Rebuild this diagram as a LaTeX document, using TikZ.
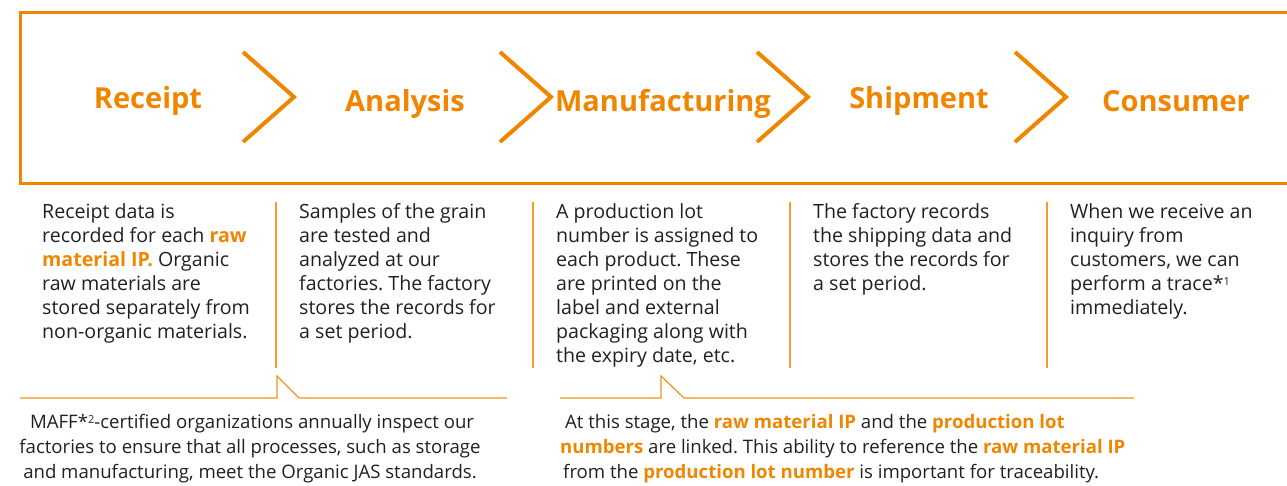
\documentclass[tikz,border=0pt]{standalone}
\usepackage{fontspec}
\setmainfont{Open Sans}
\usetikzlibrary{positioning}
\definecolor{trorange}{RGB}{240,134,0}
\definecolor{trtext}{RGB}{35,31,32}
\newcommand{\hl}[1]{\textbf{\textcolor{trorange}{#1}}}
\frenchspacing

\begin{document}
\begin{tikzpicture}[x=1pt, y=-1pt,
    stage/.style={text=trorange, inner sep=0, font=\fontsize{29}{31}\selectfont\bfseries},
    chev/.style={trorange, line width=4pt, miter limit=10},
    stepnote/.style={anchor=north west, inner sep=0, align=left, text=trtext,
        font=\fontsize{19.6}{24}\selectfont},
    divider/.style={trorange!80, line width=1.2pt},
    callout/.style={trorange!90, line width=1.2pt},
    footnote/.style={anchor=north, inner sep=0, text=trtext,
        font=\fontsize{18.6}{25}\selectfont}]
        \useasboundingbox (0,0) rectangle (1287,486);

        % Stage banner
        \draw[trorange, line width=3pt] (20,13) rectangle (1300,184);
        \node[stage] (receipt) at (148,101) {Receipt};
        \node[stage] (analysis) at (405,104) {Analysis};
        \node[stage] (manufacturing) at (663,104) {Manufacturing};
        \node[stage] (shipment) at (919,101) {Shipment};
        \node[stage] (consumer) at (1176,101) {Consumer};
        \foreach \x in {243,500,757,1015}
            \draw[chev] (\x,52) -- ++(51,45) -- ++(-51,45);

        % Stage descriptions
        \foreach \x in {276,533,790,1047}
            \draw[divider] (\x,202) -- (\x,368);
        \node[stepnote] (receipt-text) at (42,203) {Receipt data is\\
            recorded for each \hl{raw}\\
            \hl{material IP.} Organic\\
            raw materials are\\
            stored separately from\\
            non-organic materials.};
        \node[stepnote] (analysis-text) at (299,203) {Samples of the grain\\
            are tested and\\
            analyzed at our\\
            factories. The factory\\
            stores the records for\\
            a set period.};
        \node[stepnote] (manufacturing-text) at (556,203) {A production lot\\
            number is assigned to\\
            each product. These\\
            are printed on the\\
            label and external\\
            packaging along with\\
            the expiry date, etc.};
        \node[stepnote] (shipment-text) at (813,203) {The factory records\\
            the shipping data and\\
            stores the records for\\
            a set period.};
        \node[stepnote] (consumer-text) at (1070,203) {When we receive an\\
            inquiry from\\
            customers, we can\\
            perform a trace*{\fontsize{11}{11}\selectfont\raisebox{5pt}{1}}\\
            immediately.};

        % Callouts
        \draw[callout] (20,398) -- (277,398) -- (277,376) -- (299,398) -- (507,398);
        \draw[callout] (560,398) -- (661,398) -- (661,376) -- (684,398) -- (1134,398);
        \node[footnote, align=center] (maff-note) at (250,414)
            {\hspace{4pt}MAFF*{\fontsize{11}{11}\selectfont\raisebox{5pt}{2}}-certified organizations annually inspect our\\
            factories to ensure that all processes, such as storage\\
            and manufacturing, meet the Organic JAS standards.};
        \node[footnote, anchor=north west, align=left] (link-note) at (560,414)
            {\hspace{5pt}At this stage, the \hl{raw material IP} and the \hl{production lot}\\
            \hl{numbers} are linked. This ability to reference the \hl{raw material IP}\\
            \hspace{3pt}from the \hl{production lot number} is important for traceability.};
\end{tikzpicture}
\end{document}
